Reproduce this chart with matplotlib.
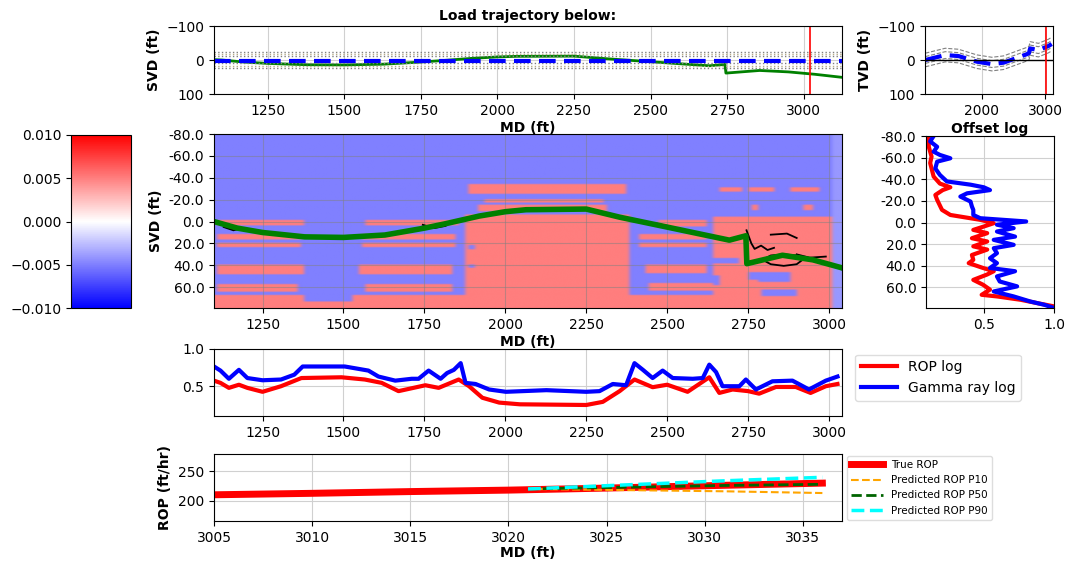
import numpy as np
import matplotlib.pyplot as plt

# ---- trajectory (MD vs SVD) ----
traj_md = [1075, 1100, 1172, 1250, 1380, 1500, 1628, 1750, 1815, 1919, 2000, 2064,
           2250, 2353, 2502, 2692, 2743, 2746, 2856, 2950, 3036, 3125]
traj_svd = [-1, 0, 6, 10, 14, 14.5, 12.3, 6, 2, -5, -9, -10.8,
            -11.4, -4, 5.2, 17, 13, 38.5, 30.8, 35, 42, 51]
bit_md = 3020
plan_svd = 3
band_svd = [-25, -18, -11, 10, 17, 24]

# ---- offset well TVD ----
off_md = [1105, 1420, 1630, 1921, 2158, 2342, 2578, 2710, 2745, 2763, 2894, 3052, 3105]
off_tvd = [0, -14.5, -11.6, 5, 12, 8, -8, -17, -20, -34, -29, -41, -47]
off_band = [-20, -10, 10, 20]

# ---- heatmap blocks (md0, md1, svd0, svd1) ----
pink_boxes = [
    (1110, 1370, -1.5, 3), (1565, 1857, -1.5, 3),
    (1110, 1360, 12, 16), (1556, 1846, 12, 16),
    (1110, 1365, 20, 23.5), (1556, 1846, 20, 23.5),
    (1110, 1370, 40, 48), (1545, 1836, 40, 48),
    (1110, 1350, 57.5, 64.5), (1566, 1836, 57.5, 64.5),
    (1100, 1370, 67.5, 80), (1370, 1525, 74, 80), (1525, 1880, 67.5, 80),
    (1880, 2385, -6, 80),
    (1888, 2373, -34, -26), (1940, 2300, -20, -17.5), (1920, 2317, -15, -10),
    (2476, 2620, -1.5, 4.5), (2414, 2620, 12, 16), (2414, 2620, 20, 23.5),
    (2435, 2620, 40, 47.5), (2445, 2640, 57, 63), (2385, 2650, 68, 80),
    (2650, 3015, -4, 80),
    (2666, 2733, -31, -28), (2753, 2835, -31, -28), (2887, 2979, -31, -28),
    (2928, 2959, -15, -11), (2763, 2784, -15, -11),
]
blue_boxes = [
    (1885, 1900, 22, 25), (1885, 1905, 40, 42), (2650, 2720, 34, 38),
    (2790, 2880, 47, 55), (2760, 2780, 47, 53), (2800, 2900, 63, 68),
    (2650, 2665, 50, 58),
]

# black scribbles (sampled trajectories)
scrib_md = [[1130, 1160, 1190], [1745, 1780, 1815], [2470, 2500, 2520],
            [2745, 2760, 2770, 2790, 2810, 2830], [2820, 2870, 2900],
            [2900, 2940, 2990],
            [2795, 2820, 2860, 2900, 2918, 2900, 2860, 2820, 2795]]
scrib_svd = [[5, 8, 6], [3, 6, 4], [2, 4, 6],
             [8, 20, 25, 22, 26, 24], [12, 11, 15],
             [30, 33, 32],
             [35, 39, 40.5, 39, 35, 31, 30, 31, 35]]

# ---- offset logs vs depth ----
olog_rop_svd = [-80, -70, -61, -55, -42.5, -36, -32.6, -30, -25.5, -21, -11.7, -7, -2.5, 0.6,
                3.7, 6.8, 9.8, 14.5, 17.5, 22, 25, 30, 34.5, 37.5, 42, 45, 48, 53, 57.5, 62,
                66.8, 68.3, 71.4, 74.5, 77.5]
olog_rop = [0.10, 0.10, 0.12, 0.11, 0.135, 0.18, 0.255, 0.2, 0.147, 0.16, 0.195, 0.255, 0.47,
            0.567, 0.495, 0.42, 0.52, 0.41, 0.52, 0.42, 0.52, 0.41, 0.42, 0.387, 0.49, 0.567,
            0.52, 0.42, 0.49, 0.54, 0.48, 0.59, 0.76, 0.88, 1.0]
olog_gr_svd = [-80, -75, -70, -65.5, -62.5, -59.4, -56.3, -50, -44, -38, -35, -32.6, -30, -27,
               -24, -19.4, -14.8, -11.7, -7, -4, -1, 2, 5.2, 8.3, 13, 16, 20.6, 23.7, 28.3,
               33, 37.5, 42, 45, 49.8, 54.5, 59, 63.7, 68.3, 73, 76, 79]
olog_gr = [0.135, 0.11, 0.16, 0.135, 0.18, 0.255, 0.16, 0.147, 0.18, 0.23, 0.4, 0.495, 0.54,
           0.375, 0.327, 0.4, 0.41, 0.42, 0.42, 0.47, 0.8, 0.59, 0.71, 0.59, 0.72, 0.567,
           0.71, 0.567, 0.59, 0.54, 0.59, 0.54, 0.72, 0.59, 0.61, 0.735, 0.567, 0.71, 0.83,
           0.93, 1.0]

# ---- logs along MD ----
rop_md = [1100, 1120, 1146, 1177, 1203, 1250, 1307, 1370, 1494, 1566, 1618, 1670, 1753, 1794,
          1856, 1888, 1929, 1981, 2045, 2250, 2301, 2353, 2399, 2455, 2500, 2563, 2630, 2661,
          2702, 2750, 2784, 2836, 2897, 2943, 2990, 3026]
rop_log = [0.575, 0.545, 0.478, 0.52, 0.478, 0.425, 0.5, 0.61, 0.62, 0.59, 0.545, 0.434,
           0.513, 0.478, 0.59, 0.5, 0.345, 0.28, 0.257, 0.248, 0.29, 0.434, 0.59, 0.487,
           0.52, 0.425, 0.62, 0.41, 0.456, 0.434, 0.4, 0.49, 0.49, 0.41, 0.5, 0.53]
gr_md = [1100, 1120, 1146, 1177, 1203, 1250, 1307, 1348, 1374, 1504, 1577, 1608, 1660, 1711,
         1732, 1763, 1800, 1820, 1841, 1862, 1877, 1908, 1950, 2002, 2127, 2250, 2291, 2332,
         2373, 2399, 2425, 2455, 2486, 2517, 2579, 2610, 2630, 2651, 2671, 2723, 2743, 2774,
         2825, 2887, 2938, 2990, 3026]
gr_log = [0.765, 0.71, 0.6, 0.72, 0.61, 0.58, 0.59, 0.655, 0.765, 0.765, 0.71, 0.63, 0.575,
          0.6, 0.6, 0.71, 0.6, 0.677, 0.72, 0.81, 0.545, 0.53, 0.456, 0.425, 0.447, 0.425,
          0.434, 0.53, 0.513, 0.81, 0.72, 0.61, 0.71, 0.61, 0.6, 0.61, 0.79, 0.69, 0.5, 0.5,
          0.59, 0.456, 0.566, 0.575, 0.456, 0.575, 0.63]

# ---- ROP prediction ----
true_md = [3005, 3010, 3015, 3020, 3025, 3030, 3036]
true_rop = [210, 212.5, 215.5, 218, 221.5, 225.5, 230]
pred_md = [3021, 3026, 3031, 3036]
p10 = [220, 218, 216, 213]
p50 = [220, 223, 226, 228]
p90 = [220, 227, 234, 240]

W, H = 1068, 562
fig = plt.figure(figsize=(W / 100, H / 100), dpi=100)
plt.rcParams['font.size'] = 10


def box(x0, y0, x1, y1):
    return fig.add_axes([x0 / W, 1 - y1 / H, (x1 - x0) / W, (y1 - y0) / H])


lab = dict(fontweight='bold', fontsize=10)

# top trajectory
ax_t = box(214, 26, 842, 94)
ax_t.plot(traj_md, traj_svd, color='green', lw=2)
for i, y in enumerate(band_svd):
    ax_t.axhline(y, color='#b8ad8a' if i in (1, 4) else 'gray', ls=':', lw=1)
ax_t.axhline(plan_svd, color='blue', ls='--', lw=3, dashes=(4, 2))
ax_t.axvline(bit_md, color='red', lw=1.2)
ax_t.set_xlim(1075, 3125)
ax_t.set_ylim(100, -100)
ax_t.set_yticks([-100, 0, 100])
ax_t.grid(True, color='#d0d0d0', lw=0.8)
ax_t.set_title('Load trajectory below:', **lab, pad=4)
ax_t.set_xlabel('MD (ft)', **lab, labelpad=2)
ax_t.set_ylabel('SVD (ft)', **lab)

# top right offset TVD
ax_tr = box(925, 26, 1053, 94)
for off in off_band:
    ax_tr.plot(off_md, np.array(off_tvd) + off, color='gray', ls='--', lw=0.8)
ax_tr.plot(off_md, off_tvd, color='blue', ls='--', lw=3, dashes=(4, 2))
ax_tr.axhline(0, color='black', lw=1)
ax_tr.axvline(bit_md, color='red', lw=1.2)
ax_tr.set_xlim(1100, 3125)
ax_tr.set_ylim(100, -100)
ax_tr.set_yticks([-100, 0, 100])
ax_tr.set_xticks([2000, 3000])
ax_tr.grid(True, color='#d0d0d0', lw=0.8)
ax_tr.set_ylabel('TVD (ft)', **lab)

# heatmap
md_grid = np.arange(1100, 3041, 10)
svd_grid = np.arange(-80, 80, 1)
grid = np.full((len(svd_grid), len(md_grid)), -0.005)
MDg, SVg = np.meshgrid(md_grid, svd_grid)
for m0, m1, s0, s1 in pink_boxes:
    grid[(MDg >= m0) & (MDg <= m1) & (SVg >= s0) & (SVg <= s1)] = 0.005
for m0, m1, s0, s1 in blue_boxes:
    grid[(MDg >= m0) & (MDg <= m1) & (SVg >= s0) & (SVg <= s1)] = -0.005
grid[:, md_grid >= 3020] = -0.004

ax_h = box(214, 134, 842, 308)
im = ax_h.imshow(grid, extent=[1100, 3040, 79, -80], aspect='auto', cmap='bwr',
                 vmin=-0.01, vmax=0.01, interpolation='bicubic')
for xs, ys in zip(scrib_md, scrib_svd):
    ax_h.plot(xs, ys, color='black', lw=1.3)
ax_h.plot(traj_md, traj_svd, color='green', lw=4)
ax_h.set_xlim(1100, 3040)
ax_h.set_ylim(79, -80)
yt = [-80, -60, -40, -20, 0, 20, 40, 60]
ax_h.set_yticks(yt)
ax_h.set_yticklabels([f'{v:.1f}' for v in yt])
ax_h.grid(True, color='gray', lw=0.8, alpha=0.5)
ax_h.set_xlabel('MD (ft)', **lab, labelpad=2)
ax_h.set_ylabel('SVD (ft)', **lab)

# colorbar
cax = box(71, 135, 131, 308)
cb = fig.colorbar(im, cax=cax)
cb.set_ticks([-0.01, -0.005, 0, 0.005, 0.01])
cax.yaxis.set_ticks_position('left')

# offset log
ax_o = box(926, 136, 1054, 308)
ax_o.plot(olog_rop, olog_rop_svd, color='red', lw=3)
ax_o.plot(olog_gr, olog_gr_svd, color='blue', lw=3)
ax_o.set_xlim(0.08, 1.0)
ax_o.set_ylim(79, -80)
ax_o.set_yticks(yt)
ax_o.set_yticklabels([f'{v:.1f}' for v in yt])
ax_o.set_xticks([0.5, 1.0])
ax_o.grid(True, color='#d0d0d0', lw=0.8)
ax_o.set_title('Offset log', **lab, pad=2)

# logs along MD
ax_l = box(214, 349, 842, 416)
ax_l.plot(rop_md, rop_log, color='red', lw=3, label='ROP log')
ax_l.plot(gr_md, gr_log, color='blue', lw=3, label='Gamma ray log')
ax_l.set_xlim(1100, 3040)
ax_l.set_ylim(0.1, 1.0)
ax_l.set_yticks([0.5, 1.0])
ax_l.grid(True, color='#d0d0d0', lw=0.8)
ax_l.legend(loc='upper left', bbox_to_anchor=(1.01, 1.02), fontsize=10,
            handlelength=2.6, framealpha=1, edgecolor='#dddddd')

# ROP
ax_r = box(214, 454, 842, 521)
ax_r.plot(true_md, true_rop, color='red', lw=5, label='True ROP')
ax_r.plot(pred_md, p10, color='orange', ls='--', lw=1.5, label='Predicted ROP P10')
ax_r.plot(pred_md, p50, color='darkgreen', ls='--', lw=2, label='Predicted ROP P50')
ax_r.plot(pred_md, p90, color='cyan', ls='--', lw=2.5, label='Predicted ROP P90')
ax_r.set_xlim(3005, 3037)
ax_r.set_ylim(165, 280)
ax_r.set_yticks([200, 250])
ax_r.grid(True, color='#d0d0d0', lw=0.8)
ax_r.set_xlabel('MD (ft)', **lab, labelpad=1)
ax_r.set_ylabel('ROP (ft/hr)', **lab)
ax_r.legend(loc='upper left', bbox_to_anchor=(1.0, 1.05), fontsize=7.5,
            handlelength=3, framealpha=1, edgecolor='#dddddd')

fig.savefig('out.png', dpi=100)
